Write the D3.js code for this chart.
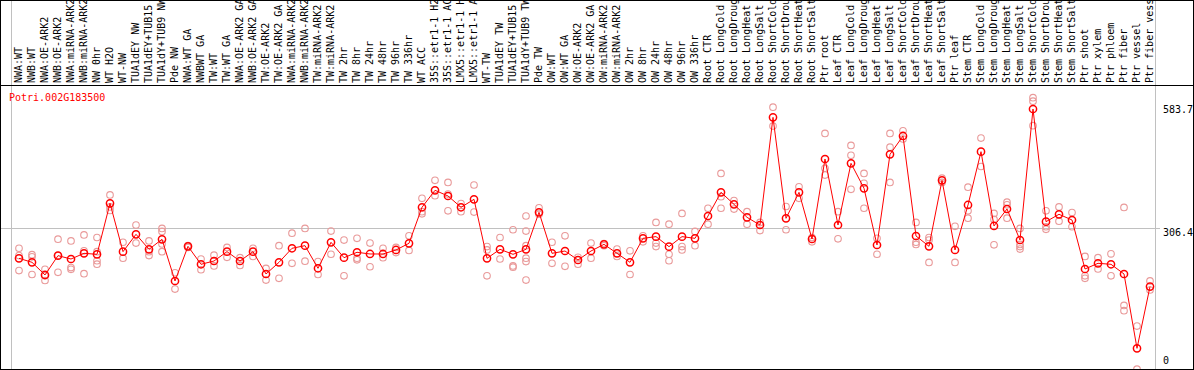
<!DOCTYPE html>
<html>
<head>
<meta charset="utf-8">
<script src="https://cdn.jsdelivr.net/npm/d3@7"></script>
<style>
  body { margin: 0; background: #fff; }
  svg { display: block; font-family: "DejaVu Sans Mono", monospace; }
</style>
</head>
<body>
<div id="chart"></div>
<script>
const TITLE = "Potri.002G183500";

const LABELS = [
  "NWA:WT", "NWB:WT", "NWA:OE-ARK2", "NWB:OE-ARK2", "NWA:miRNA-ARK2", "NWB:miRNA-ARK2",
  "NW 0hr", "WT H2O", "WT-NW", "TUA1dEY NW", "TUA1dEY+TUB15 NW", "TUA1dY+TUB9 NW", "Pde NW",
  "NWA:WT GA", "NWBWT GA", "TW:WT", "TW:WT GA", "NWA:OE-ARK2 GA", "NWB:OE-ARK2 GA",
  "TW:OE-ARK2", "TW:OE-ARK2 GA", "NWA:miRNA-ARK2", "NWB:miRNA-ARK2", "TW:miRNA-ARK2",
  "TW:miRNA-ARK2", "TW 2hr", "TW 8hr", "TW 24hr", "TW 48hr", "TW 96hr", "TW 336hr",
  "WT ACC", "35S::etr1-1 H2O", "35S::etr1-1 ACC", "LMX5::etr1-1 H2O", "LMX5::etr1-1 ACC",
  "WT-TW", "TUA1dEY TW", "TUA1dEY+TUB15 TW", "TUA1dY+TUB9 TW", "Pde TW",
  "OW:WT", "OW:WT GA", "OW:OE-ARK2", "OW:OE-ARK2 GA", "OW:miRNA-ARK2", "OW:miRNA-ARK2",
  "OW 2hr", "OW 8hr", "OW 24hr", "OW 48hr", "OW 96hr", "OW 336hr",
  "Root CTR", "Root LongCold", "Root LongDrought", "Root LongHeat", "Root LongSalt",
  "Root ShortCold", "Root ShortDrought", "Root ShortHeat", "Root ShortSalt", "Ptr root",
  "Leaf CTR", "Leaf LongCold", "Leaf LongDrought", "Leaf LongHeat", "Leaf LongSalt",
  "Leaf ShortCold", "Leaf ShortDrought", "Leaf ShortHeat", "Leaf ShortSalt", "Ptr leaf",
  "Stem CTR", "Stem LongCold", "Stem LongDrought", "Stem LongHeat", "Stem LongSalt",
  "Stem ShortCold", "Stem ShortDrought", "Stem ShortHeat", "Stem ShortSalt", "Ptr shoot",
  "Ptr xylem", "Ptr phloem", "Ptr fiber", "Ptr vessel", "Ptr fiber vessel"
];

// sample count in each separated group
const GROUP_SIZES = [13, 28, 12, 10, 10, 11, 1, 1, 1, 1];

const MEANS = [
  236.6, 227.3, 197.9, 242.8, 235.0, 248.2, 245.9, 364.4, 252.1, 292.4, 257.5, 280.8, 183.9,
  264.5, 222.7, 230.4, 252.1, 230.4, 252.1, 200.2, 227.3, 259.9, 266.0, 213.4, 273.8, 238.1,
  250.6, 246.7, 246.7, 256.0, 271.5, 355.2, 394.7, 381.5, 355.2, 373.7, 236.6, 257.5, 245.9,
  257.5, 343.5,
  248.2, 253.6, 232.7, 253.6, 269.1, 248.2, 227.3, 283.1, 287.0, 263.7, 287.0, 283.1,
  335.0, 390.0, 362.1, 331.9, 314.0, 564.3, 329.6, 390.0, 281.5, 467.5,
  314.0, 457.4, 399.3, 267.6, 478.3, 521.0, 288.5, 264.5, 417.9, 256.0,
  360.6, 484.5, 311.8, 351.3, 279.2, 583.7, 321.8, 338.9, 325.7, 211.8, 225.0,
  222.7, 200.2, 27.4, 170.8
];

const REPLICATES = [
  [260, 243, 208], [245, 240, 199], [211, 196, 185], [281, 243, 204], [277, 215, 211],
  [291, 254, 201], [285, 252, 231, 223], [384, 356, 348], [274, 237], [314, 272],
  [277, 252, 243], [306, 299, 270, 252], [203, 165],
  [266, 262], [235, 210], [244, 219], [262, 239], [238, 220], [260, 241], [213, 186],
  [266, 190], [295, 225], [306, 230], [229, 199], [300, 246], [279, 196], [283, 237, 233],
  [272, 217], [260, 238], [262, 250], [289, 255], [376, 345, 340], [418, 382],
  [413, 386, 347], [364, 345], [407, 344], [264, 256, 196], [285, 235], [303, 219, 216],
  [335, 300, 266, 237, 229, 186], [354, 339],
  [274, 225], [289, 218], [239, 223], [272, 237], [271, 266], [258, 241], [254, 199],
  [289, 275], [320, 272, 264], [316, 246, 231], [341, 264, 256], [299, 266],
  [353, 316], [434, 380, 353], [371, 351], [345, 316], [320, 301], [588, 544],
  [357, 303], [403, 376], [275, 285], [527, 446, 430],
  [345, 282], [499, 476, 397], [434, 411, 353], [283, 246], [527, 495, 413], [533, 514],
  [320, 274, 269], [285, 279, 227], [423, 413], [311, 227],
  [402, 347, 330], [516, 450], [341, 327, 268], [367, 361, 330], [306, 269, 264, 258],
  [610, 602, 545], [347, 310, 304], [356, 323], [343, 310], [241, 196, 190],
  [238, 212], [247, 196], [355, 127, 115], [79, -21], [184, 163]
];

const Y_TICKS = [0, 306.4, 583.7];
const GRID_VALUES = [306.4];

const W = 1194, H = 370;
const headerH = 85;

const svg = d3.select("#chart").append("svg")
  .attr("width", W)
  .attr("height", H);

const x = d3.scaleBand()
  .domain(d3.range(LABELS.length))
  .range([11, 1155]);

const y = d3.scaleLinear()
  .domain([0, 583.7])
  .range([360.1, 109]);

svg.append("defs").append("clipPath").attr("id", "plotclip")
  .append("rect").attr("x", 1).attr("y", headerH + 1).attr("width", W - 2).attr("height", H - headerH - 2);

// horizontal grid
svg.selectAll(".grid")
  .data(GRID_VALUES)
  .enter().append("line")
  .attr("x1", 1).attr("x2", 1160)
  .attr("y1", d => Math.round(y(d)) + 0.5)
  .attr("y2", d => Math.round(y(d)) + 0.5)
  .attr("stroke", "#c0c0c0");

// group separators
const bounds = [0].concat(d3.cumsum(GROUP_SIZES));
svg.selectAll(".sep")
  .data(bounds)
  .enter().append("line")
  .attr("x1", d => Math.round(d < LABELS.length ? x(d) : x(LABELS.length - 1) + x.bandwidth()) + 0.5)
  .attr("x2", d => Math.round(d < LABELS.length ? x(d) : x(LABELS.length - 1) + x.bandwidth()) + 0.5)
  .attr("y1", 0).attr("y2", H)
  .attr("stroke", "#c0c0c0");

// header labels
svg.append("g").selectAll("text")
  .data(LABELS)
  .enter().append("text")
  .attr("transform", (d, i) => `translate(${x(i) + 10.5},${headerH - 2}) rotate(-90)`)
  .attr("font-size", 10)
  .attr("fill", "#000")
  .text(d => d);

// frame
svg.append("line")
  .attr("x1", 0).attr("x2", W)
  .attr("y1", headerH + 0.5).attr("y2", headerH + 0.5)
  .attr("stroke", "#000");
svg.append("rect")
  .attr("x", 0.5).attr("y", 0.5)
  .attr("width", W - 1).attr("height", H - 1)
  .attr("fill", "none").attr("stroke", "#000");

// title
svg.append("text")
  .attr("x", 9).attr("y", 101)
  .attr("font-size", 10)
  .attr("fill", "#ff0000")
  .text(TITLE);

// right value labels
const tickDy = { 0: 3.5, 306.4: 8, 583.7: 3.5 };
svg.selectAll(".ylab")
  .data(Y_TICKS)
  .enter().append("text")
  .attr("x", 1163)
  .attr("y", d => y(d) + tickDy[d])
  .attr("font-size", 10)
  .attr("fill", "#000")
  .text(d => d);

const plot = svg.append("g").attr("clip-path", "url(#plotclip)");
const cx = i => x(i) + 8;

// replicate points
REPLICATES.forEach((reps, i) => {
  plot.selectAll(null)
    .data(reps)
    .enter().append("circle")
    .attr("cx", cx(i))
    .attr("cy", d => y(d))
    .attr("r", 3.3)
    .attr("fill", "none")
    .attr("stroke", "#e99a9a")
    .attr("stroke-width", 1.1);
});

// mean line
const line = d3.line()
  .x((d, i) => cx(i))
  .y(d => y(d));

plot.append("path")
  .datum(MEANS)
  .attr("fill", "none")
  .attr("stroke", "#ff0000")
  .attr("stroke-width", 1)
  .attr("d", line);

plot.selectAll(".mean")
  .data(MEANS)
  .enter().append("circle")
  .attr("cx", (d, i) => cx(i))
  .attr("cy", d => y(d))
  .attr("r", 3.6)
  .attr("fill", "none")
  .attr("stroke", "#ff0000")
  .attr("stroke-width", 1.5);
</script>
</body>
</html>
